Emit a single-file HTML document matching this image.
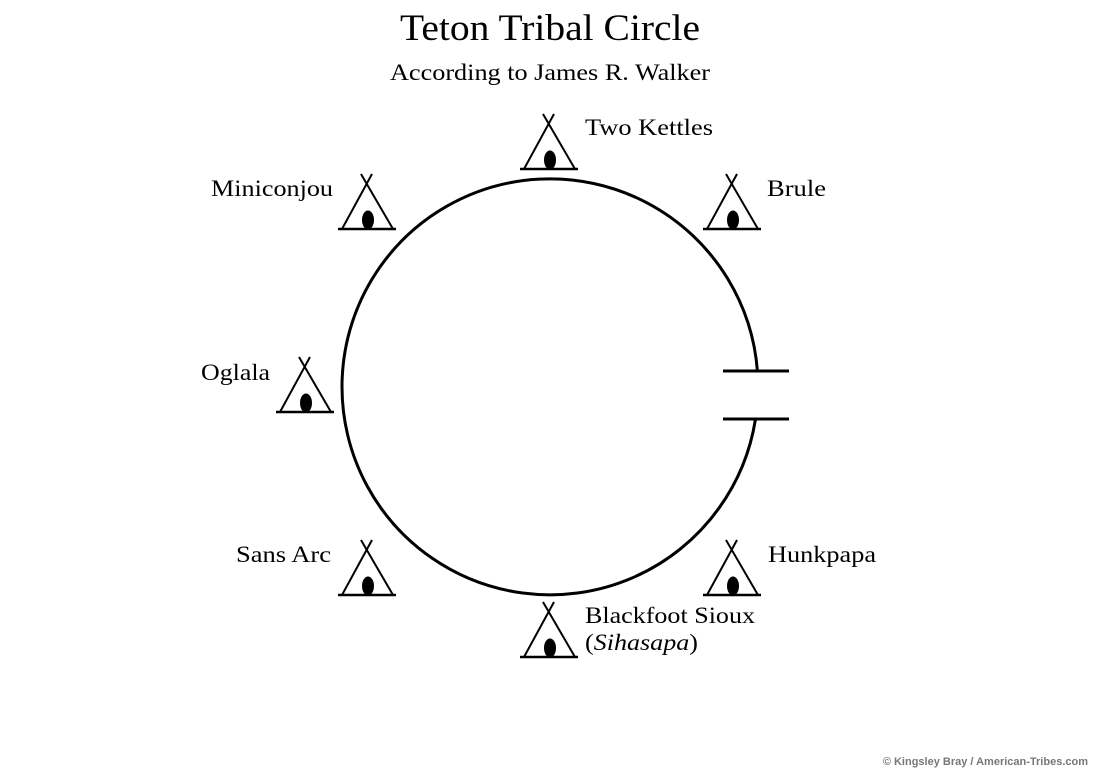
<!DOCTYPE html>
<html><head><style>
html,body{margin:0;padding:0;background:#fff;}
svg{display:block;}
text{font-family:"Liberation Serif",serif;fill:#000;}
</style></head><body>
<svg width="1100" height="778" viewBox="0 0 1100 778" xmlns="http://www.w3.org/2000/svg">
<defs>
<g id="t">
<line x1="-29" y1="0" x2="29" y2="0" stroke="#000" stroke-width="2.5"/>
<line x1="-25" y1="0" x2="5" y2="-55" stroke="#000" stroke-width="2"/>
<line x1="26" y1="0" x2="-6" y2="-55" stroke="#000" stroke-width="2"/>
<ellipse cx="1" cy="-9" rx="6" ry="9.5" fill="#000"/>
</g>
</defs>
<text x="400" y="40" font-size="37" textLength="300" lengthAdjust="spacingAndGlyphs">Teton Tribal Circle</text>
<text x="390" y="80" font-size="23" textLength="320" lengthAdjust="spacingAndGlyphs">According to James R. Walker</text>
<path d="M 757.4 371 A 208 208 0 1 0 755.5 419" fill="none" stroke="#000" stroke-width="3"/>
<line x1="723" y1="371" x2="789" y2="371" stroke="#000" stroke-width="3"/>
<line x1="723" y1="419" x2="789" y2="419" stroke="#000" stroke-width="3"/>
<use href="#t" x="549" y="169"/>
<use href="#t" x="367" y="229"/>
<use href="#t" x="732" y="229"/>
<use href="#t" x="305" y="412"/>
<use href="#t" x="367" y="595"/>
<use href="#t" x="732" y="595"/>
<use href="#t" x="549" y="657"/>
<g font-size="23">
<text x="585" y="135" textLength="128" lengthAdjust="spacingAndGlyphs">Two Kettles</text>
<text x="211" y="196" textLength="122" lengthAdjust="spacingAndGlyphs">Miniconjou</text>
<text x="767" y="196" textLength="59" lengthAdjust="spacingAndGlyphs">Brule</text>
<text x="201" y="380" textLength="69" lengthAdjust="spacingAndGlyphs">Oglala</text>
<text x="236" y="562" textLength="95" lengthAdjust="spacingAndGlyphs">Sans Arc</text>
<text x="768" y="562" textLength="108" lengthAdjust="spacingAndGlyphs">Hunkpapa</text>
<text x="585" y="623" textLength="170" lengthAdjust="spacingAndGlyphs">Blackfoot Sioux</text>
<text x="585" y="650" textLength="113" lengthAdjust="spacingAndGlyphs">(<tspan font-style="italic">Sihasapa</tspan>)</text>
</g>
<text x="1088" y="765" font-size="11" font-weight="bold" text-anchor="end" style="font-family:'Liberation Sans',sans-serif;fill:#777">© Kingsley Bray / American-Tribes.com</text>
</svg>
</body></html>
